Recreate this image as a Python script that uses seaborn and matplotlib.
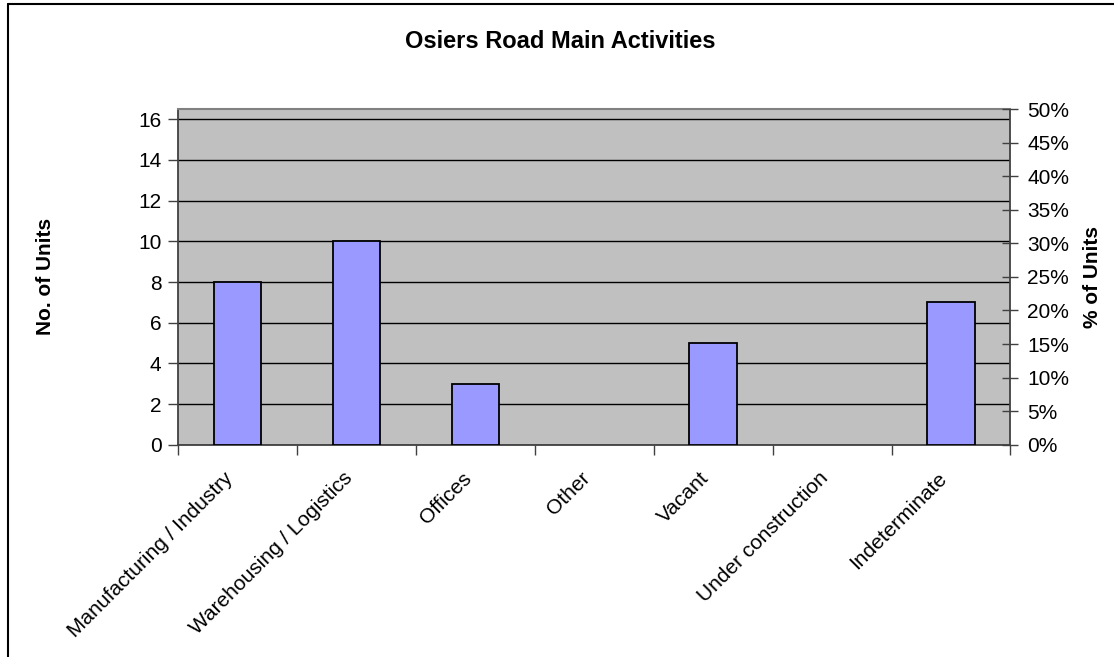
import matplotlib
matplotlib.use("Agg")
import matplotlib.pyplot as plt
import seaborn as sns
import pandas as pd
from matplotlib.ticker import PercentFormatter
from matplotlib.lines import Line2D

categories = ["Manufacturing / Industry", "Warehousing / Logistics", "Offices",
              "Other", "Vacant", "Under construction", "Indeterminate"]
units = [8, 10, 3, 0, 5, 0, 7]

sns.set_theme(style="white")
plt.rcParams["font.family"] = ["Liberation Sans", "DejaVu Sans"]
plt.rcParams.update({"text.color": "black", "axes.labelcolor": "black",
                     "xtick.color": "black", "ytick.color": "black"})

df = pd.DataFrame({"Activity": categories, "Units": units})
total = sum(units)

fig = plt.figure(figsize=(11.14, 6.57), dpi=100)
ax = fig.add_axes([0.160, 0.323, 0.747, 0.511])
ax.set_facecolor("#C0C0C0")

sns.barplot(data=df, x="Activity", y="Units", color="#9999FF", saturation=1,
            edgecolor="black", linewidth=1.3, width=0.4, ax=ax, zorder=3)
# empty categories leave no outline on the axis
for bar in ax.patches:
    if bar.get_height() == 0:
        bar.set_visible(False)

ax.set_xlim(-0.5, len(categories) - 0.5)
ax.set_ylim(0, total / 2)
ax.set_yticks(range(0, 17, 2))
ax.grid(axis="y", color="black", linewidth=1.0, zorder=1)
ax.set_axisbelow(True)

ax.spines["top"].set_color("#808080")
ax.spines["top"].set_linewidth(1.5)
for side in ["left", "bottom", "right"]:
    ax.spines[side].set_color("#404040")
    ax.spines[side].set_linewidth(1.3)

# category boundary ticks on the x axis; rotated labels hang just left of each bar centre
ax.set_xticks([i - 0.5 for i in range(len(categories) + 1)])
ax.set_xticklabels([])
ax.set_xticks([i - 0.06 for i in range(len(categories))], minor=True)
ax.set_xticklabels(categories, minor=True, rotation=45, ha="right", va="center",
                   rotation_mode="anchor", fontsize=15)
ax.tick_params(axis="x", which="major", direction="out", length=7, width=1,
               color="#404040", bottom=True)
ax.tick_params(axis="x", which="minor", length=0, pad=22)
ax.tick_params(axis="y", direction="out", length=7, width=1, color="#404040",
               left=True, labelsize=15, pad=5)

ax.set_xlabel("")
ax.set_ylabel("No. of Units", fontsize=15, fontweight="bold", labelpad=60)

ax2 = ax.twinx()
ax2.set_ylim(0, 0.5)
ax2.set_yticks([i * 0.05 for i in range(11)])
ax2.yaxis.set_major_formatter(PercentFormatter(1.0, decimals=0))
ax2.tick_params(axis="y", direction="inout", length=12, width=1, color="#404040",
                right=True, labelsize=15, pad=6)
for s in ax2.spines.values():
    s.set_visible(False)
ax2.set_ylabel("% of Units", fontsize=15, fontweight="bold", labelpad=10)

fig.suptitle("Osiers Road Main Activities", fontsize=17, fontweight="bold",
             x=0.503, y=0.955)

# chart frame: top and left edges
fig.add_artist(Line2D([8 / 1114, 1], [1 - 4 / 657, 1 - 4 / 657],
                      transform=fig.transFigure, color="black", linewidth=1.5))
fig.add_artist(Line2D([8 / 1114, 8 / 1114], [0, 1 - 4 / 657],
                      transform=fig.transFigure, color="black", linewidth=1.5))

fig.savefig("out.png", dpi=100, facecolor="white")
